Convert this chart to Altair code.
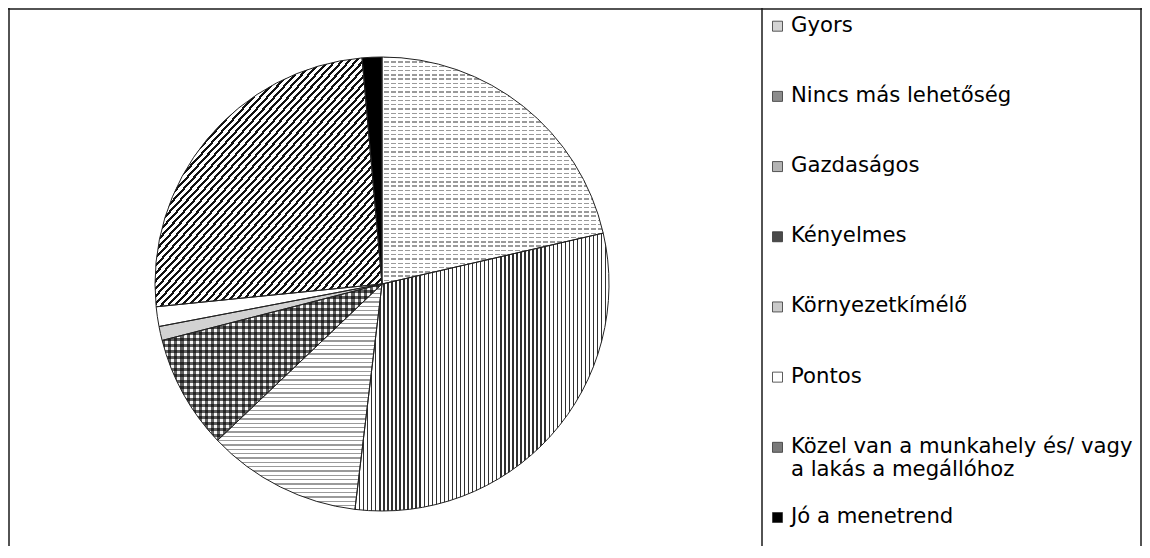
import math
import altair as alt
import pandas as pd

# ---- data ----
categories = [
    "Gyors",
    "Nincs más lehetőség",
    "Gazdaságos",
    "Kényelmes",
    "Környezetkímélő",
    "Pontos",
    "Közel van a munkahely és/ vagy a lakás a megállóhoz",
    "Jó a menetrend",
]
values = [21.4, 30.5, 11.0, 8.1, 1.0, 1.4, 25.2, 1.4]
legend_labels = [
    "Gyors",
    "Nincs más lehetőség",
    "Gazdaságos",
    "Kényelmes",
    "Környezetkímélő",
    "Pontos",
    "Közel van a munkahely és/ vagy\na lakás a megállóhoz",
    "Jó a menetrend",
]

df = pd.DataFrame({
    "cat": categories,
    "value": values,
    "label": legend_labels,
    "order": list(range(len(categories))),
})

# ---- layout / style ----
W, H = 1134, 538
CX, CY, R = 374, 276, 227
symbol_greys = ["#d4d4d4", "#8c8c8c", "#b4b4b4", "#4a4a4a", "#cacaca", "#ffffff", "#7a7a7a", "#000000"]


def stripes(n, line, bg, frac, x2, y2):
    stops = []
    for k in range(n):
        a = round(k / n, 5)
        b = round((k + frac) / n, 5)
        c = round((k + 1) / n, 5)
        stops += [
            alt.GradientStop(color=line, offset=a),
            alt.GradientStop(color=line, offset=b),
            alt.GradientStop(color=bg, offset=b),
            alt.GradientStop(color=bg, offset=c),
        ]
    return alt.LinearGradient(gradient="linear", stops=stops, x1=0, y1=0, x2=x2, y2=y2)


base = (
    alt.Chart(df)
    .transform_joinaggregate(total="sum(value)")
    .transform_window(cum="sum(value)", sort=[alt.SortField("order")], frame=[None, 0])
    .transform_calculate(t0="(datum.cum - datum.value) / datum.total", t1="datum.cum / datum.total")
)

theta_scale = alt.Scale(domain=[0, 1], range=[0, 2 * math.pi])
arc_enc = dict(
    theta=alt.Theta("t0:Q", scale=theta_scale),
    theta2="t1:Q",
    x=alt.value(CX),
    y=alt.value(CY),
)


def slice_layer(cat, fill, **kw):
    return (
        base.transform_filter(alt.FieldEqualPredicate(field="cat", equal=cat))
        .mark_arc(radius=R, fill=fill, **kw)
        .encode(**arc_enc)
    )


clear = "rgba(0,0,0,0)"
layers = [
    # Gyors: light grey dashes
    slice_layer(categories[0], stripes(53, "#9a9a9a", "#ffffff", 0.32, 0, 1)),
    slice_layer(categories[0], stripes(32, "#ffffff", clear, 0.28, 1, 0)),
    # Nincs más lehetőség: vertical lines
    slice_layer(categories[1], stripes(63, "#303030", "#ffffff", 0.34, 1, 0)),
    # Gazdaságos: wavy horizontal lines
    slice_layer(categories[2], stripes(52, "#9a9a9a", "#ffffff", 0.3, 0, 1)),
    # Kényelmes: check pattern
    slice_layer(categories[3], "#f4f4f4"),
    slice_layer(categories[3], stripes(36, "rgba(0,0,0,0.62)", clear, 0.5, 1, 0)),
    slice_layer(categories[3], stripes(26, "rgba(0,0,0,0.62)", clear, 0.5, 0, 1)),
    # Környezetkímélő: fine dots
    slice_layer(categories[4], "#d2d2d2"),
    # Pontos: white
    slice_layer(categories[5], "#ffffff"),
    # Közel: diagonal hatching
    slice_layer(categories[6], stripes(65, "#111111", "#ffffff", 0.42, 1, 1)),
    # Jó a menetrend: black
    slice_layer(categories[7], "#000000"),
]

outline = base.mark_arc(radius=R, fillOpacity=0, stroke="#222222", strokeWidth=1).encode(**arc_enc)

leg_y = alt.Y(
    "cat:N",
    scale=alt.Scale(type="point", domain=categories, range=[23.7, 515], padding=0),
    axis=None,
)

leg_text = alt.Chart(df).mark_text(
    align="left", baseline="alphabetic", font="DejaVu Sans", fontSize=21.2,
    lineBreak="\n", lineHeight=23.5, color="#000000",
).encode(x=alt.value(783), y=leg_y, text="label:N")

leg_sym = alt.Chart(df).mark_square(
    size=100, stroke="#333333", strokeWidth=0.8, opacity=1, yOffset=-5.5
).encode(
    x=alt.value(769.5),
    y=leg_y,
    fill=alt.Fill("cat:N", scale=alt.Scale(domain=categories, range=symbol_greys), legend=None),
)

one = pd.DataFrame({"k": [0]})
frame_color = "#1a1a1a"
divider = alt.Chart(one).mark_rule(color=frame_color, strokeWidth=1.5).encode(
    x=alt.value(754), y=alt.value(0), y2=alt.value(H))
left_b = alt.Chart(one).mark_rule(color=frame_color, strokeWidth=1.5).encode(
    x=alt.value(1), y=alt.value(0), y2=alt.value(H))
right_b = alt.Chart(one).mark_rule(color=frame_color, strokeWidth=1.5).encode(
    x=alt.value(W - 1), y=alt.value(0), y2=alt.value(H))
top_b = alt.Chart(one).mark_rule(color=frame_color, strokeWidth=1.5).encode(
    y=alt.value(1), x=alt.value(0), x2=alt.value(W))

chart = (
    alt.layer(*layers, outline, leg_sym, leg_text, divider, left_b, right_b, top_b)
    .properties(width=W, height=H, padding=0, autosize=alt.AutoSizeParams(type="none"), background="white")
    .configure_view(stroke=None)
)

chart.save("out.html", embed_options={"renderer": "svg", "actions": False})
